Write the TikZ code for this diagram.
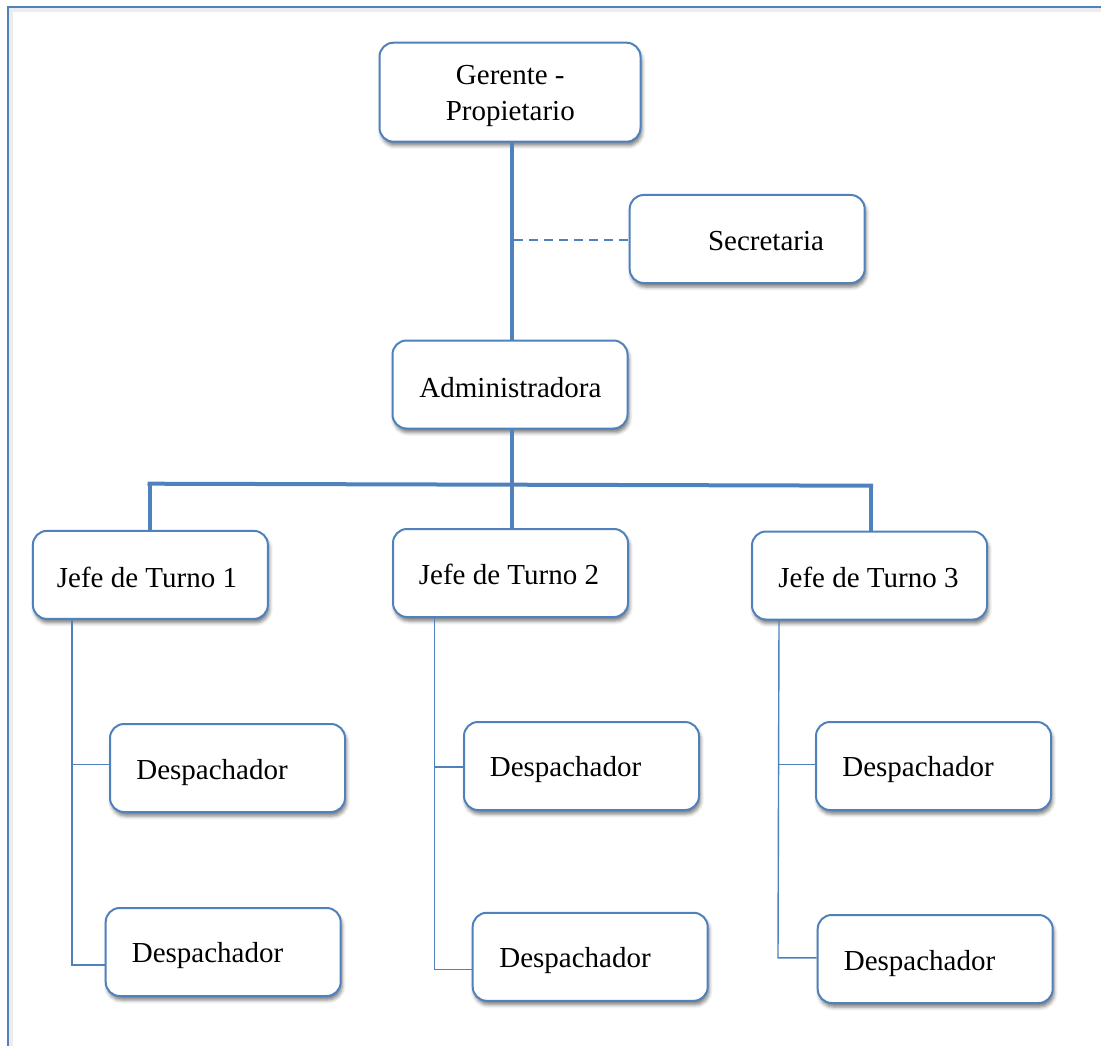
\documentclass[tikz,border=0pt]{standalone}
\usepackage{fontspec}
\setmainfont{Liberation Serif}
\usetikzlibrary{shadows.blur}
\definecolor{obl}{RGB}{79,129,189}
\tikzset{
  box/.style={draw=obl, line width=2pt, fill=white, rounded corners=14pt,
    minimum width=235pt, minimum height=88pt, inner sep=0pt,
    blur shadow={shadow xshift=1.5pt, shadow yshift=-4pt, shadow blur radius=3.5pt, shadow opacity=50}},
  txt/.style={font=\fontsize{29}{35.7}\selectfont, inner sep=0pt, anchor=base},
  thickln/.style={draw=obl, line width=4pt},
  thinln/.style={draw=obl, line width=1.4pt},
  dashln/.style={draw=obl, line width=1.4pt, dash pattern=on 9pt off 6pt},
}
\begin{document}
\begin{tikzpicture}[x=1pt,y=-1pt]
\useasboundingbox (0,0) rectangle (1101,1046);
% outer frame
\draw[gray!15, line width=4pt] (11,1060) -- (11,10) -- (1110,10);
\draw[obl, line width=2pt] (8,1060) -- (8,7) -- (1110,7);

% boxes
\node[box, minimum width=261pt, minimum height=99pt] (ger) at (510,92.2) {};
\node[box] (sec) at (747.2,239) {};
\node[box] (adm) at (510,384.5) {};
\node[box] (j1) at (150.4,574.9) {};
\node[box] (j2) at (510.5,573) {};
\node[box] (j3) at (869.5,575.5) {};
\node[box] (d11) at (227.5,768) {};
\node[box] (d12) at (223.2,952) {};
\node[box] (d21) at (581.5,766) {};
\node[box] (d22) at (590.2,956.8) {};
\node[box] (d31) at (933.5,766) {};
\node[box] (d32) at (935.2,959) {};

% texts
\node[txt, align=center] (gert) at (510.3,120.7) {Gerente -\\Propietario};
\node[txt] (sect) at (766,250) {Secretaria};
\node[txt] (admt) at (510.5,397) {Administradora};
\node[txt] (j1t) at (147,587) {Jefe de Turno 1};
\node[txt] (j2t) at (509,584) {Jefe de Turno 2};
\node[txt] (j3t) at (868.5,587) {Jefe de Turno 3};
\node[txt] (d11t) at (212,779) {Despachador};
\node[txt] (d12t) at (207.5,962.7) {Despachador};
\node[txt] (d21t) at (565.5,776.7) {Despachador};
\node[txt] (d22t) at (575,967) {Despachador};
\node[txt] (d31t) at (918,776.7) {Despachador};
\node[txt] (d32t) at (919.5,970) {Despachador};

% thick connectors
\draw[thickln] ([xshift=1.7pt]ger.south) -- ([xshift=1.7pt]adm.north);
\draw[thickln] ([xshift=2pt]adm.south) -- ([xshift=1.5pt]j2.north);
\coordinate (barL) at (147.5,483.7);
\coordinate (barR) at (873,485.7);
\draw[thickln] (barL) -- (barR);
\draw[thickln] (j1.north) -- (j1.north |- barL);
\draw[thickln] ([xshift=1.5pt]j3.north) -- ([xshift=1.5pt]j3.north |- barR);

% dashed to secretaria
\coordinate (dsh) at (514,240);
\draw[dashln] (dsh) -- (dsh -| sec.west);

% column 1
\coordinate (s1) at (72,764.3);
\coordinate (e1) at (72,965);
\draw[thinln] (j1.south -| s1) -- (e1) -- (e1 -| d12.west);
\draw[thinln] (s1) -- (s1 -| d11.west);
% column 2
\coordinate (s2) at (434.3,766.8);
\coordinate (e2) at (434.3,969.3);
\draw[thinln] (j2.south -| s2) -- (e2) -- (e2 -| d22.west);
\draw[thinln] (s2) -- (s2 -| d21.west);
% column 3
\coordinate (s3) at (779,764.7);
\coordinate (e3) at (778,957.8);
\draw[thinln] (j3.south -| s3) -- (e3) -- (e3 -| d32.west);
\draw[thinln] (s3) -- (s3 -| d31.west);
\end{tikzpicture}
\end{document}
